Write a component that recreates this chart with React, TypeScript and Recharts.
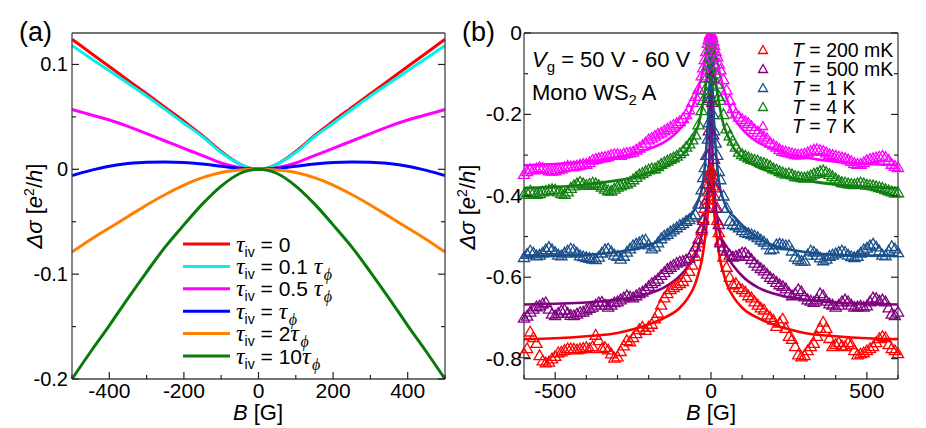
import { ComposedChart, Line, Scatter, XAxis, YAxis } from 'recharts'

const SANS = '"Liberation Sans", Arial, Helvetica, sans-serif'
const SERIF = '"Liberation Serif", "Times New Roman", serif'
const INK = '#222'

// ---------- panel (a): model curves, B in G ----------
const B_MODEL = [-500, -450, -400, -350, -300, -250, -200, -150, -100, -50, -25, 0, 25, 50, 100, 150, 200, 250, 300, 350, 400, 450, 500]
const TAU_0    = [0.124, 0.111, 0.098, 0.085, 0.072, 0.059, 0.046, 0.032, 0.017, 0.005, 0.0013, 0, 0.0013, 0.005, 0.017, 0.032, 0.046, 0.059, 0.072, 0.085, 0.098, 0.111, 0.124]
const TAU_01   = [0.118, 0.106, 0.094, 0.082, 0.070, 0.057, 0.044, 0.031, 0.016, 0.005, 0.0012, 0, 0.0012, 0.005, 0.016, 0.031, 0.044, 0.057, 0.070, 0.082, 0.094, 0.106, 0.118]
const TAU_05   = [0.057, 0.052, 0.047, 0.041, 0.034, 0.027, 0.020, 0.013, 0.006, 0.0015, 0.0004, 0, 0.0004, 0.0015, 0.006, 0.013, 0.020, 0.027, 0.034, 0.041, 0.047, 0.052, 0.057]
const TAU_1    = [-0.006, -0.001, 0.003, 0.0055, 0.0068, 0.007, 0.0065, 0.005, 0.003, 0.001, 0.0003, 0, 0.0003, 0.001, 0.003, 0.005, 0.0065, 0.007, 0.0068, 0.0055, 0.003, -0.001, -0.006]
const TAU_2    = [-0.079, -0.067, -0.056, -0.045, -0.034, -0.024, -0.015, -0.008, -0.003, -0.0007, -0.0002, 0, -0.0002, -0.0007, -0.003, -0.008, -0.015, -0.024, -0.034, -0.045, -0.056, -0.067, -0.079]
const TAU_10   = [-0.200, -0.174, -0.149, -0.123, -0.098, -0.074, -0.053, -0.033, -0.016, -0.004, -0.001, 0, -0.001, -0.004, -0.016, -0.033, -0.053, -0.074, -0.098, -0.123, -0.149, -0.174, -0.200]

const MODEL_SERIES = [
  { key: 't0',  coef: '0',    phi: false, color: '#ff0000', values: TAU_0 },
  { key: 't01', coef: '0.1 ', phi: true,  color: '#00f0f0', values: TAU_01 },
  { key: 't05', coef: '0.5 ', phi: true,  color: '#ff00ff', values: TAU_05 },
  { key: 't1',  coef: ' ',    phi: true,  color: '#0000ff', values: TAU_1 },
  { key: 't2',  coef: '2',    phi: true,  color: '#ff8000', values: TAU_2 },
  { key: 't10', coef: '10',   phi: true,  color: '#0a7a0a', values: TAU_10 },
]

// ---------- panel (b): measured data + fits ----------
const B_DATA = [
  -600, -590, -580, -570, -560, -550, -540, -530, -520, -510,
  -500, -490, -480, -470, -460, -450, -440, -430, -420, -410,
  -400, -390, -380, -370, -360, -350, -340, -330, -320, -310,
  -300, -290, -280, -270, -260, -250, -240, -230, -220, -210,
  -200, -190, -180, -170, -160, -150, -140, -130, -120, -110,
  -100, -90, -80, -70, -60, -50, -40, -30,
  -25, -20, -15, -10, -7, -4, -2, 0, 2, 4, 7, 10, 15, 20, 25,
  30, 40, 50, 60, 70, 80, 90, 100, 110, 120,
  130, 140, 150, 160, 170, 180, 190, 200, 210, 220,
  230, 240, 250, 260, 270, 280, 290, 300, 310, 320,
  330, 340, 350, 360, 370, 380, 390, 400, 410, 420,
  430, 440, 450, 460, 470, 480, 490, 500, 510, 520,
  530, 540, 550, 560, 570, 580, 590, 600,
]

const T200MK = [
  -0.787, -0.775, -0.734, -0.748, -0.762, -0.792, -0.805, -0.810, -0.808, -0.800,
  -0.794, -0.785, -0.783, -0.779, -0.775, -0.775, -0.776, -0.778, -0.776, -0.774,
  -0.772, -0.775, -0.770, -0.742, -0.755, -0.775, -0.772, -0.778, -0.788, -0.798,
  -0.795, -0.782, -0.768, -0.755, -0.758, -0.748, -0.738, -0.728, -0.722, -0.730,
  -0.722, -0.715, -0.702, -0.688, -0.668, -0.650, -0.640, -0.630, -0.625, -0.620,
  -0.615, -0.610, -0.600, -0.585, -0.570, -0.548, -0.515, -0.485,
  -0.455, -0.430, -0.410, -0.390, -0.370, -0.350, -0.340, -0.335, -0.340, -0.355, -0.375, -0.400, -0.430, -0.460, -0.490,
  -0.510, -0.550, -0.575, -0.600, -0.618, -0.615, -0.625, -0.630, -0.636, -0.645,
  -0.650, -0.660, -0.668, -0.675, -0.680, -0.692, -0.698, -0.705, -0.720, -0.712,
  -0.702, -0.725, -0.745, -0.752, -0.770, -0.790, -0.795, -0.792, -0.780, -0.770,
  -0.762, -0.745, -0.725, -0.710, -0.725, -0.750, -0.770, -0.765, -0.760, -0.768,
  -0.770, -0.760, -0.765, -0.780, -0.790, -0.788, -0.785, -0.780, -0.775, -0.770,
  -0.760, -0.750, -0.745, -0.748, -0.765, -0.775, -0.780, -0.787,
]

const T500MK = [
  -0.700, -0.695, -0.685, -0.678, -0.672, -0.670, -0.665, -0.662, -0.678, -0.690,
  -0.694, -0.688, -0.682, -0.680, -0.688, -0.693, -0.694, -0.690, -0.686, -0.685,
  -0.680, -0.676, -0.673, -0.668, -0.662, -0.661, -0.668, -0.673, -0.668, -0.662,
  -0.660, -0.655, -0.650, -0.645, -0.648, -0.650, -0.645, -0.640, -0.636, -0.630,
  -0.622, -0.615, -0.610, -0.604, -0.595, -0.588, -0.580, -0.575, -0.570, -0.565,
  -0.562, -0.560, -0.557, -0.553, -0.540, -0.525, -0.506, -0.480,
  -0.460, -0.420, -0.370, -0.300, -0.240, -0.160, -0.110, -0.090, -0.110, -0.170, -0.250, -0.310, -0.380, -0.430, -0.470,
  -0.515, -0.525, -0.535, -0.545, -0.550, -0.548, -0.545, -0.540, -0.540, -0.548,
  -0.556, -0.565, -0.572, -0.578, -0.584, -0.592, -0.600, -0.605, -0.612, -0.618,
  -0.622, -0.628, -0.638, -0.645, -0.640, -0.630, -0.635, -0.648, -0.655, -0.658,
  -0.661, -0.655, -0.640, -0.645, -0.658, -0.665, -0.668, -0.673, -0.668, -0.660,
  -0.655, -0.660, -0.668, -0.673, -0.672, -0.670, -0.673, -0.670, -0.660, -0.650,
  -0.652, -0.658, -0.655, -0.660, -0.675, -0.690, -0.694, -0.685,
]

const T1K = [
  -0.551, -0.543, -0.535, -0.540, -0.547, -0.545, -0.540, -0.532, -0.526, -0.532,
  -0.539, -0.545, -0.547, -0.540, -0.535, -0.530, -0.533, -0.540, -0.547, -0.549,
  -0.551, -0.553, -0.555, -0.556, -0.550, -0.540, -0.532, -0.530, -0.537, -0.545,
  -0.548, -0.555, -0.548, -0.538, -0.530, -0.522, -0.518, -0.515, -0.510, -0.508,
  -0.520, -0.530, -0.525, -0.515, -0.505, -0.498, -0.494, -0.488, -0.483, -0.478,
  -0.472, -0.468, -0.462, -0.458, -0.452, -0.446, -0.420, -0.385,
  -0.355, -0.330, -0.300, -0.260, -0.220, -0.150, -0.080, -0.030, -0.060, -0.130, -0.200, -0.240, -0.270, -0.300, -0.340,
  -0.360, -0.400, -0.430, -0.462, -0.470, -0.473, -0.478, -0.485, -0.490, -0.492,
  -0.495, -0.498, -0.502, -0.508, -0.513, -0.520, -0.532, -0.530, -0.520, -0.518,
  -0.520, -0.522, -0.522, -0.535, -0.550, -0.556, -0.560, -0.560, -0.545, -0.535,
  -0.538, -0.545, -0.552, -0.559, -0.555, -0.548, -0.545, -0.542, -0.538, -0.535,
  -0.538, -0.545, -0.549, -0.551, -0.548, -0.540, -0.532, -0.528, -0.522, -0.518,
  -0.525, -0.535, -0.545, -0.547, -0.535, -0.524, -0.530, -0.539,
]

const T4K = [
  -0.396, -0.392, -0.388, -0.392, -0.396, -0.394, -0.390, -0.388, -0.386, -0.384,
  -0.385, -0.390, -0.394, -0.396, -0.390, -0.381, -0.375, -0.370, -0.366, -0.370,
  -0.374, -0.371, -0.368, -0.370, -0.374, -0.378, -0.383, -0.387, -0.388, -0.383,
  -0.378, -0.375, -0.372, -0.370, -0.366, -0.360, -0.354, -0.348, -0.344, -0.340,
  -0.336, -0.333, -0.333, -0.328, -0.322, -0.318, -0.314, -0.310, -0.306, -0.302,
  -0.296, -0.290, -0.280, -0.272, -0.262, -0.250, -0.225, -0.190,
  -0.165, -0.140, -0.110, -0.080, -0.060, -0.040, -0.030, -0.020, -0.030, -0.045, -0.060, -0.075, -0.100, -0.125, -0.155,
  -0.165, -0.200, -0.235, -0.252, -0.265, -0.280, -0.292, -0.298, -0.302, -0.306,
  -0.310, -0.312, -0.314, -0.318, -0.320, -0.323, -0.327, -0.333, -0.336, -0.340,
  -0.343, -0.346, -0.345, -0.348, -0.352, -0.353, -0.355, -0.356, -0.354, -0.350,
  -0.346, -0.344, -0.340, -0.338, -0.342, -0.347, -0.352, -0.358, -0.363, -0.367,
  -0.368, -0.370, -0.371, -0.372, -0.370, -0.368, -0.370, -0.373, -0.374, -0.375,
  -0.377, -0.379, -0.381, -0.384, -0.387, -0.390, -0.392, -0.392,
]

const T7K = [
  -0.347, -0.340, -0.335, -0.336, -0.333, -0.330, -0.332, -0.335, -0.338, -0.339,
  -0.338, -0.335, -0.333, -0.330, -0.327, -0.328, -0.328, -0.326, -0.324, -0.322,
  -0.322, -0.318, -0.312, -0.310, -0.308, -0.306, -0.305, -0.303, -0.300, -0.298,
  -0.298, -0.300, -0.297, -0.295, -0.294, -0.292, -0.287, -0.282, -0.276, -0.270,
  -0.262, -0.258, -0.253, -0.248, -0.245, -0.240, -0.236, -0.231, -0.226, -0.222,
  -0.217, -0.210, -0.200, -0.188, -0.170, -0.155, -0.138, -0.105,
  -0.085, -0.065, -0.045, -0.025, -0.015, -0.007, -0.003, 0, -0.004, -0.010, -0.020, -0.030, -0.045, -0.058, -0.075,
  -0.090, -0.114, -0.140, -0.165, -0.185, -0.198, -0.206, -0.212, -0.217, -0.222,
  -0.229, -0.237, -0.243, -0.250, -0.255, -0.260, -0.270, -0.275, -0.280, -0.286,
  -0.290, -0.292, -0.294, -0.296, -0.298, -0.299, -0.298, -0.297, -0.294, -0.290,
  -0.287, -0.286, -0.288, -0.290, -0.294, -0.298, -0.300, -0.302, -0.304, -0.306,
  -0.308, -0.311, -0.315, -0.320, -0.322, -0.322, -0.318, -0.313, -0.310, -0.308,
  -0.306, -0.304, -0.302, -0.305, -0.312, -0.322, -0.327, -0.330,
]

const B_FIT = [-600, -500, -400, -300, -250, -200, -150, -100, -75, -50, -40, -30, -20, -10, -5, 0, 5, 10, 20, 30, 40, 50, 75, 100, 150, 200, 250, 300, 400, 500, 600]
const FIT_200MK = [-0.752, -0.750, -0.745, -0.737, -0.728, -0.716, -0.700, -0.675, -0.652, -0.615, -0.590, -0.560, -0.510, -0.440, -0.390, -0.320, -0.390, -0.440, -0.510, -0.560, -0.590, -0.615, -0.652, -0.675, -0.700, -0.716, -0.728, -0.737, -0.745, -0.750, -0.752]
const FIT_500MK = [-0.667, -0.665, -0.662, -0.655, -0.649, -0.640, -0.625, -0.597, -0.575, -0.545, -0.525, -0.497, -0.455, -0.380, -0.300, -0.070, -0.300, -0.380, -0.455, -0.497, -0.525, -0.545, -0.575, -0.597, -0.625, -0.640, -0.649, -0.655, -0.662, -0.665, -0.667]
const FIT_1K     = [-0.548, -0.547, -0.545, -0.538, -0.532, -0.522, -0.503, -0.472, -0.452, -0.430, -0.410, -0.385, -0.330, -0.220, -0.140, -0.030, -0.140, -0.220, -0.330, -0.385, -0.410, -0.430, -0.452, -0.472, -0.503, -0.522, -0.532, -0.538, -0.545, -0.547, -0.548]
const FIT_4K     = [-0.381, -0.378, -0.372, -0.362, -0.355, -0.343, -0.330, -0.305, -0.285, -0.245, -0.225, -0.190, -0.145, -0.085, -0.050, -0.020, -0.050, -0.085, -0.145, -0.190, -0.225, -0.245, -0.285, -0.305, -0.330, -0.343, -0.355, -0.362, -0.372, -0.378, -0.381]
const FIT_7K     = [-0.325, -0.322, -0.316, -0.305, -0.297, -0.285, -0.268, -0.236, -0.210, -0.160, -0.135, -0.105, -0.070, -0.035, -0.018, 0, -0.018, -0.035, -0.070, -0.105, -0.135, -0.160, -0.210, -0.236, -0.268, -0.285, -0.297, -0.305, -0.316, -0.322, -0.325]

const TEMP_SERIES = [
  { key: '200mK', label: '200 mK', color: '#ff0000', data: T200MK, fit: FIT_200MK },
  { key: '500mK', label: '500 mK', color: '#800080', data: T500MK, fit: FIT_500MK },
  { key: '1K',    label: '1 K',    color: '#1a4f8a', data: T1K,    fit: FIT_1K },
  { key: '4K',    label: '4 K',    color: '#118011', data: T4K,    fit: FIT_4K },
  { key: '7K',    label: '7 K',    color: '#ff00ff', data: T7K,    fit: FIT_7K },
]

const A_X_TICKS = [-500, -400, -300, -200, -100, 0, 100, 200, 300, 400, 500]
const A_Y_TICKS = [-0.2, -0.15, -0.1, -0.05, 0, 0.05, 0.1]
const B_X_TICKS = [-600, -500, -400, -300, -200, -100, 0, 100, 200, 300, 400, 500, 600]
const B_Y_TICKS = [-0.8, -0.7, -0.6, -0.5, -0.4, -0.3, -0.2, -0.1, 0]

const zip = (xs: number[], ys: number[]) => xs.map((B, i) => ({ B, v: ys[i] }))
const isMult = (v: number, step: number) => Math.abs(Math.round(v / step) - v / step) < 1e-6
const fmtY = (v: number) => (Math.abs(v) < 1e-9 ? '0' : v.toFixed(1))

interface Frame { left: number; right: number; top: number; bottom: number }

type Side = 'bottom' | 'top' | 'left' | 'right'

function makeTick(side: Side, f: Frame, major: (v: number) => boolean, label: ((v: number) => string | null) | null, fontSize: number, gap: number) {
  return (props: any) => {
    const v = props.payload.value as number
    const len = major(v) ? 7 : 4
    const txt = label ? label(v) : null
    const common = { stroke: INK, strokeWidth: 1.2 }
    if (side === 'bottom' || side === 'top') {
      const x = props.x as number
      const y0 = side === 'bottom' ? f.bottom : f.top
      const y1 = side === 'bottom' ? f.bottom - len : f.top + len
      return (
        <g>
          <line x1={x} x2={x} y1={y0} y2={y1} {...common} />
          {txt && (
            <text x={x} y={f.bottom + 19} textAnchor="middle" fontSize={fontSize} fontFamily={SANS} fill="#000">
              {txt}
            </text>
          )}
        </g>
      )
    }
    const y = props.y as number
    const x0 = side === 'left' ? f.left : f.right
    const x1 = side === 'left' ? f.left + len : f.right - len
    return (
      <g>
        <line x1={x0} x2={x1} y1={y} y2={y} {...common} />
        {txt && (
          <text x={f.left - gap} y={y + 7} textAnchor="end" fontSize={fontSize} fontFamily={SANS} fill="#000">
            {txt}
          </text>
        )}
      </g>
    )
  }
}

function triangle(color: string) {
  return (props: any) => {
    const { cx, cy } = props
    if (cx == null || cy == null) return <g />
    return (
      <path
        d={`M${cx},${cy - 5.5}L${cx + 5.6},${cy + 4.2}L${cx - 5.6},${cy + 4.2}Z`}
        fill="none"
        stroke={color}
        strokeWidth={1.3}
      />
    )
  }
}

const AXIS_LINE = { stroke: '#444', strokeWidth: 1.3 }

function PanelA() {
  const f: Frame = { left: 72, right: 445, top: 33, bottom: 379 }
  const xMajor = (v: number) => isMult(v, 200)
  const yMajor = (v: number) => isMult(v, 0.1)
  return (
    <ComposedChart width={465} height={428} margin={{ top: 32, right: 19, bottom: 19, left: 32 }}>
      <XAxis xAxisId="b" dataKey="B" type="number" domain={[-500, 500]} ticks={A_X_TICKS} interval={0}
        height={30} axisLine={AXIS_LINE} tickLine={false}
        tick={makeTick('bottom', f, xMajor, (v) => (xMajor(v) && Math.abs(v) < 500 ? String(v) : null), 21, 0)} />
      <XAxis xAxisId="t" orientation="top" type="number" domain={[-500, 500]} ticks={A_X_TICKS} interval={0}
        height={1} axisLine={AXIS_LINE} tickLine={false} tick={makeTick('top', f, xMajor, null, 0, 0)} />
      <YAxis yAxisId="l" type="number" domain={[-0.2, 0.13]} ticks={A_Y_TICKS} interval={0} width={40}
        axisLine={AXIS_LINE} tickLine={false} allowDataOverflow
        tick={makeTick('left', f, yMajor, (v) => (yMajor(v) ? fmtY(v) : null), 20, 4)} />
      <YAxis yAxisId="r" orientation="right" type="number" domain={[-0.2, 0.13]} ticks={A_Y_TICKS} interval={0} width={1}
        axisLine={AXIS_LINE} tickLine={false} allowDataOverflow tick={makeTick('right', f, yMajor, null, 0, 0)} />
      {MODEL_SERIES.map((s) => (
        <Line key={s.key} xAxisId="b" yAxisId="l" data={zip(B_MODEL, s.values)} dataKey="v" type="monotone"
          stroke={s.color} strokeWidth={3} dot={false} activeDot={false} isAnimationActive={false} />
      ))}
    </ComposedChart>
  )
}

function PanelB() {
  const f: Frame = { left: 59, right: 433, top: 33, bottom: 379 }
  const xMajor = (v: number) => isMult(v, 500)
  const yMajor = (v: number) => isMult(v, 0.2)
  return (
    <ComposedChart width={461} height={428} margin={{ top: 32, right: 27, bottom: 19, left: 19 }}>
      <XAxis xAxisId="b" dataKey="B" type="number" domain={[-600, 600]} ticks={B_X_TICKS} interval={0}
        height={30} axisLine={AXIS_LINE} tickLine={false}
        tick={makeTick('bottom', f, xMajor, (v) => (xMajor(v) ? String(v) : null), 21, 0)} />
      <XAxis xAxisId="t" orientation="top" type="number" domain={[-600, 600]} ticks={B_X_TICKS} interval={0}
        height={1} axisLine={AXIS_LINE} tickLine={false} tick={makeTick('top', f, xMajor, null, 0, 0)} />
      <YAxis yAxisId="l" type="number" domain={[-0.85, 0]} ticks={B_Y_TICKS} interval={0} width={40}
        axisLine={AXIS_LINE} tickLine={false} allowDataOverflow
        tick={makeTick('left', f, yMajor, (v) => (yMajor(v) ? fmtY(v) : null), 21, 2)} />
      <YAxis yAxisId="r" orientation="right" type="number" domain={[-0.85, 0]} ticks={B_Y_TICKS} interval={0} width={1}
        axisLine={AXIS_LINE} tickLine={false} allowDataOverflow tick={makeTick('right', f, yMajor, null, 0, 0)} />
      {TEMP_SERIES.flatMap((s) => [
        <Scatter key={s.key + '-pts'} xAxisId="b" yAxisId="l" data={zip(B_DATA, s.data)} dataKey="v"
          shape={triangle(s.color)} isAnimationActive={false} />,
        <Line key={s.key + '-fit'} xAxisId="b" yAxisId="l" data={zip(B_FIT, s.fit)} dataKey="v" type="monotone"
          stroke={s.color} strokeWidth={2.6} dot={false} activeDot={false} isAnimationActive={false} />,
      ])}
    </ComposedChart>
  )
}

function Overlay() {
  const legendA = MODEL_SERIES.map((s, i) => {
    const y = 244 + i * 22.4
    return (
      <g key={s.key}>
        <line x1={183} x2={230} y1={y} y2={y} stroke={s.color} strokeWidth={3} />
        <text x={236} y={y + 7.5} fontFamily={SANS} fontSize={21}>
          <tspan fontFamily={SERIF} fontStyle="italic" fontSize={24}>τ</tspan>
          <tspan fontSize={14} dy={5}>iv</tspan>
          <tspan dy={-5}>{' = ' + s.coef}</tspan>
          {s.phi && <tspan fontFamily={SERIF} fontStyle="italic" fontSize={24}>τ</tspan>}
          {s.phi && <tspan fontFamily={SERIF} fontStyle="italic" fontSize={16} dx={1.5} dy={6}>ϕ</tspan>}
        </text>
      </g>
    )
  })
  const legendB = TEMP_SERIES.map((s, i) => {
    const y = 50 + i * 19
    return (
      <g key={s.key}>
        <path d={`M763,${y - 4.5}L767.5,${y + 3.5}L758.5,${y + 3.5}Z`} fill="none" stroke={s.color} strokeWidth={1.3} />
        <text x={792} y={y + 7} fontFamily={SANS} fontSize={19.5}>
          <tspan fontStyle="italic">T</tspan>
          <tspan>{' = ' + s.label}</tspan>
        </text>
      </g>
    )
  })
  return (
    <svg width={926} height={428} style={{ position: 'absolute', left: 0, top: 0, pointerEvents: 'none' }}>
      <g fontFamily={SANS} fill="#000">
        <text x={19} y={41} fontSize={27}>(a)</text>
        <text x={462} y={41} fontSize={27}>(b)</text>

        <text x={258} y={420} fontSize={22} textAnchor="middle">
          <tspan fontStyle="italic">B</tspan> [G]
        </text>
        <text x={711} y={420} fontSize={22} textAnchor="middle">
          <tspan fontStyle="italic">B</tspan> [G]
        </text>

        <text transform="translate(42,206) rotate(-90)" fontSize={22} textAnchor="middle">
          <tspan fontStyle="italic">Δσ</tspan> [<tspan fontStyle="italic">e</tspan>
          <tspan fontSize={14} dy={-8}>2</tspan>
          <tspan dy={8}>/</tspan><tspan fontStyle="italic">h</tspan>]
        </text>
        <text transform="translate(475,207) rotate(-90)" fontSize={22} textAnchor="middle">
          <tspan fontStyle="italic">Δσ</tspan> [<tspan fontStyle="italic">e</tspan>
          <tspan fontSize={14} dy={-8}>2</tspan>
          <tspan dy={8}>/</tspan><tspan fontStyle="italic">h</tspan>]
        </text>

        <text x={532} y={67} fontSize={22}>
          <tspan fontStyle="italic">V</tspan>
          <tspan fontSize={15} dy={5}>g</tspan>
          <tspan dy={-5}> = 50 V - 60 V</tspan>
        </text>
        <text x={532} y={100} fontSize={22}>
          Mono WS<tspan fontSize={15} dy={5}>2</tspan><tspan dy={-5}> A</tspan>
        </text>

        {legendA}
        {legendB}
      </g>
    </svg>
  )
}

export default function App() {
  return (
    <div style={{ position: 'absolute', left: 0, top: 0, width: 926, height: 428, background: '#fff', fontFamily: SANS }}>
      <div style={{ position: 'absolute', left: 0, top: 0 }}>
        <PanelA />
      </div>
      <div style={{ position: 'absolute', left: 465, top: 0 }}>
        <PanelB />
      </div>
      <Overlay />
    </div>
  )
}
